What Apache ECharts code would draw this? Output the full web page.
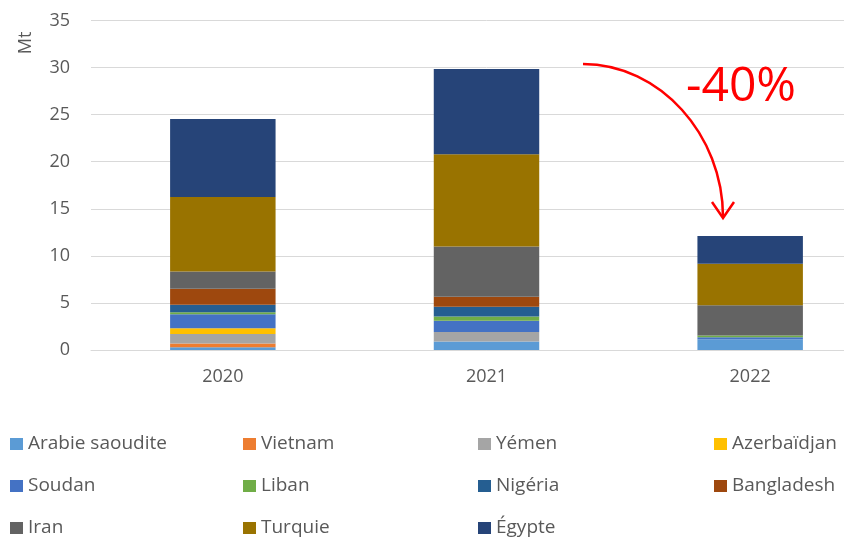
<!DOCTYPE html>
<html>
<head>
<meta charset="utf-8">
<script src="https://cdn.jsdelivr.net/npm/echarts@6/dist/echarts.min.js"></script>
<style>html,body{margin:0;padding:0;background:#fff;overflow:hidden;width:844px;height:539px;}#c{width:882px;height:539px;}</style>
</head>
<body>
<div id="c"></div>
<script>
var years = ['2020', '2021', '2022'];
var yTicks = [0, 5, 10, 15, 20, 25, 30, 35];
var seriesNames = ['Arabie saoudite', 'Vietnam', 'Yémen', 'Azerbaïdjan', 'Soudan', 'Liban', 'Nigéria', 'Bangladesh', 'Iran', 'Turquie', 'Égypte'];
var arabieSaoudite = [0.3, 0.9, 1.15];
var vietnam = [0.4, 0, 0];
var yemen = [1.0, 1.0, 0];
var azerbaidjan = [0.6, 0, 0];
var soudan = [1.5, 1.2, 0.2];
var liban = [0.2, 0.45, 0.2];
var nigeria = [0.8, 1.05, 0];
var bangladesh = [1.7, 1.05, 0];
var iran = [1.85, 5.35, 3.2];
var turquie = [7.9, 9.8, 4.4];
var egypte = [8.3, 9.05, 2.95];
var colors = ['#5B9BD5', '#ED7D31', '#A5A5A5', '#FFC000', '#4472C4', '#70AD47', '#255E91', '#9E480E', '#636363', '#997300', '#264478'];
var values = [arabieSaoudite, vietnam, yemen, azerbaidjan, soudan, liban, nigeria, bangladesh, iran, turquie, egypte];
var annotation = '-40%';
var axisName = 'Mt';

var font = 'Open Sans';
var txt = '#595959';

var series = seriesNames.map(function (n, i) {
  return {
    name: n, type: 'bar', stack: 'total', barWidth: '40%',
    itemStyle: { color: colors[i] },
    data: values[i]
  };
});

var legendCols = [
  [seriesNames[0], seriesNames[4], seriesNames[8]],
  [seriesNames[1], seriesNames[5], seriesNames[9]],
  [seriesNames[2], seriesNames[6], seriesNames[10]],
  [seriesNames[3], seriesNames[7]]
];
var legendLeft = [10, 243, 478, 714];
var legends = legendCols.map(function (d, i) {
  return {
    data: d, orient: 'vertical', left: legendLeft[i], top: 434.5,
    itemWidth: 13, itemHeight: 12, itemGap: 23, padding: 0,
    selectedMode: false,
    icon: 'rect',
    textStyle: { fontFamily: font, fontSize: 19, color: txt }
  };
});

var chart = echarts.init(document.getElementById('c'), null, { renderer: 'canvas' });
chart.setOption({
  animation: false,
  backgroundColor: '#ffffff',
  grid: { left: 91, right: 0, top: 20.5, height: 329.5, containLabel: false },
  legend: legends,
  xAxis: {
    type: 'category', data: years,
    axisLine: { lineStyle: { color: '#D9D9D9', width: 1 } },
    axisTick: { show: false },
    axisLabel: { color: txt, fontFamily: font, fontSize: 18, margin: 18 }
  },
  yAxis: {
    type: 'value', min: 0, max: 35, interval: 5,
    axisLine: { show: false }, axisTick: { show: false },
    axisLabel: { color: txt, fontFamily: font, fontSize: 18, margin: 21,
      formatter: function (v) { return yTicks.indexOf(v) >= 0 ? String(v) : ''; } },
    splitLine: { lineStyle: { color: '#D9D9D9', width: 1 } }
  },
  series: series,
  graphic: [
    { type: 'text', x: 26, y: 43, rotation: Math.PI / 2, z: 100,
      style: { text: axisName, fill: txt, font: '18px "Open Sans"', align: 'center', verticalAlign: 'middle' } },
    { type: 'text', left: 686, top: 63, z: 100,
      style: { text: annotation, fill: '#FF0000', font: '48px "Open Sans"' } },
    { type: 'bezierCurve', z: 100,
      shape: { x1: 583, y1: 64, cpx1: 660, cpy1: 64, cpx2: 723, cpy2: 135, x2: 723, y2: 217 },
      style: { stroke: '#FF0000', lineWidth: 2.5, fill: null } },
    { type: 'polyline', z: 100,
      shape: { points: [[712, 202], [723, 218], [734, 202]] },
      style: { stroke: '#FF0000', lineWidth: 2.5, fill: null } }
  ]
});
</script>
</body>
</html>
